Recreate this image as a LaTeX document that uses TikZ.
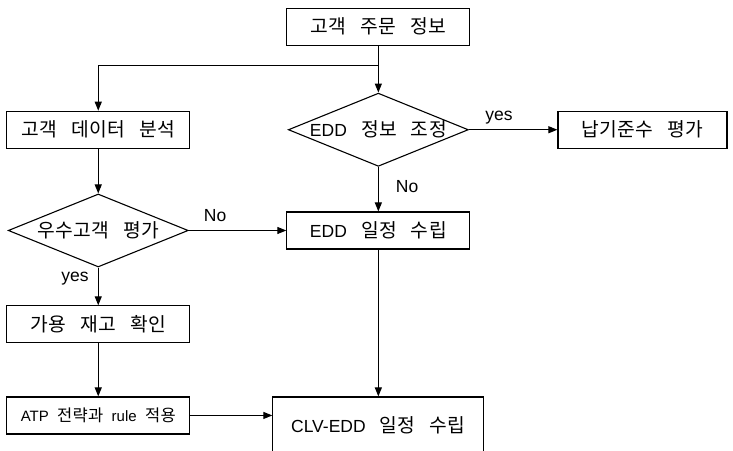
\documentclass[tikz,border=0pt]{standalone}
\usepackage{fontspec}
\setmainfont{Liberation Sans}
\newfontfamily\kr{Noto Sans CJK KR}[WordSpace=3, LetterSpace=2, Scale=1.1]
\usetikzlibrary{matrix,shapes.geometric,arrows.meta}

\begin{document}
\begin{tikzpicture}[x=1pt,y=-1pt]
            \useasboundingbox (0,0) rectangle (733,450);

            \matrix (m) [
                matrix of nodes,
                anchor=north west,
                inner sep=0pt,
                column sep=0pt,
                row sep=0pt,
                nodes={
                    draw,
                    line width=1.1pt,
                    anchor=center,
                    text centered,
                    inner sep=2pt,
                    font=\fontsize{17.5}{21}\selectfont,
                    minimum width=183pt, minimum height=37pt
                },
                decision/.style={diamond, aspect=2.45, minimum width=180pt, minimum height=73pt, inner sep=0pt}
            ] at (6,7.5) {
                &[82pt] {\kr 고객 주문 정보} &[73pt] \\[47pt]
                {\kr 고객 데이터 분석} & |[decision]| EDD{\kr\ 정보 조정} & |[minimum width=169pt]| {\kr 납기준수 평가} \\[27pt]
                |[decision]| {\kr 우수고객 평가} & EDD{\kr\ 일정 수립} & \\[38pt]
                {\kr 가용 재고 확인} & & \\[53pt]
                |[anchor=north, font=\fontsize{15}{18}\selectfont]| ATP~~{\kr 전략과}~~rule~~{\kr 적용} &
                |[anchor=north, minimum width=211pt, minimum height=56pt]| CLV-EDD{\kr\ 일정 수립} & \\
            };

            \tikzset{flow/.style={line width=1.1pt, -{Triangle[length=9pt,width=7pt]}},
                     answer/.style={font=\fontsize{17.5}{20}\selectfont, inner sep=0pt}};

            \coordinate (split) at ([yshift=-20pt]m-1-2.south);
            \draw[flow] (m-1-2) -- (m-2-2);
            \draw[flow] (split) -| (m-2-1);
            \draw[flow] (m-2-2) -- node[answer, above=5pt, pos=.34] {yes} (m-2-3);
            \draw[flow] (m-2-2) -- node[answer, right=17pt, pos=.45] {No} (m-3-2);
            \draw[flow] (m-2-1) -- (m-3-1);
            \draw[flow] (m-3-1) -- node[answer, above=8pt, pos=.27] {No} (m-3-2);
            \draw[flow] (m-3-1) -- node[answer, left=9pt, pos=.3] {yes} (m-4-1);
            \draw[flow] (m-4-1) -- (m-5-1);
            \draw[flow] (m-5-1.east) -- (m-5-1.east -| m-5-2.west);
            \draw[flow] (m-3-2) -- (m-5-2);

        \end{tikzpicture}
\end{document}
